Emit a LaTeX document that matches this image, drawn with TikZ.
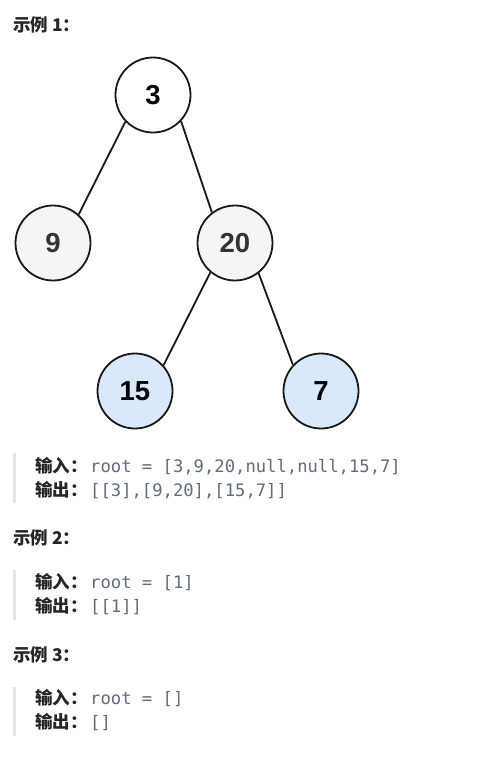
\documentclass[tikz,border=0pt]{standalone}
\usepackage{fontspec}
\setmainfont{Liberation Sans}
\newfontfamily\cjkfont{Noto Sans CJK SC}
\newfontfamily\codefont{DejaVu Sans Mono}
\definecolor{txt}{RGB}{38,38,38}
\definecolor{codec}{RGB}{98,108,122}
\definecolor{barc}{RGB}{228,228,228}
\definecolor{grayfill}{HTML}{F5F5F5}
\definecolor{bluefill}{HTML}{DAE8FC}
\definecolor{numc}{RGB}{51,51,51}
\tikzset{
  tnode/.style={circle, draw=black!90, line width=1.8pt, minimum size=75pt, inner sep=0pt,
    font=\fontsize{27.5}{27.5}\selectfont\bfseries},
  edge/.style={line width=1.8pt, draw=black!90},
  heading/.style={anchor=base west, inner sep=0pt, text=txt, font=\cjkfont\fontsize{17.5}{17.5}\selectfont\bfseries},
  lab/.style={anchor=base west, inner sep=0pt, text=txt, font=\cjkfont\fontsize{17.5}{17.5}\selectfont\bfseries},
  code/.style={anchor=base west, inner sep=0pt, text=codec, font=\codefont\fontsize{17.2}{17.2}\selectfont},
  qbar/.style={line width=2.5pt, draw=barc}
}
\begin{document}
\begin{tikzpicture}[x=1pt,y=-1pt]
\useasboundingbox[fill=white] (0,0) rectangle (497,758);
% Example 1
\node[heading] (h1) at (13,31) {示例 1：};
\node[tnode, fill=white, text=black] (n3) at (153,95) {3};
\node[tnode, fill=grayfill, text=numc] (n9) at (53,243) {9};
\node[tnode, fill=grayfill, text=numc] (n20) at (235,243) {20};
\node[tnode, fill=bluefill, text=black] (n15) at (135,391) {15};
\node[tnode, fill=bluefill, text=black] (n7) at (321,391) {7};
\draw[edge] (n3.224) -- (n9.48);
\draw[edge] (n3.317) -- (n20.127);
\draw[edge] (n20.230) -- (n15.42);
\draw[edge] (n20.308) -- (n7.137);
\coordinate (b1t) at (14.5,453);
\coordinate (b1b) at (14.5,503);
\draw[qbar] (b1t) -- (b1b);
\node[lab] (l1a) at (35,472) {输入：};
\node[code] (c1a) at (90,472) {root = [3,9,20,null,null,15,7]};
\node[lab] (l1b) at (35,496.5) {输出：};
\node[code] (c1b) at (90,496.5) {[[3],[9,20],[15,7]]};
% Example 2
\node[heading] (h2) at (13,544) {示例 2：};
\coordinate (b2t) at (14.5,570);
\coordinate (b2b) at (14.5,620);
\draw[qbar] (b2t) -- (b2b);
\node[lab] (l2a) at (35,588) {输入：};
\node[code] (c2a) at (90,588) {root = [1]};
\node[lab] (l2b) at (35,612.5) {输出：};
\node[code] (c2b) at (90,612.5) {[[1]]};
% Example 3
\node[heading] (h3) at (13,661) {示例 3：};
\coordinate (b3t) at (14.5,687);
\coordinate (b3b) at (14.5,736);
\draw[qbar] (b3t) -- (b3b);
\node[lab] (l3a) at (35,704) {输入：};
\node[code] (c3a) at (90,704) {root = []};
\node[lab] (l3b) at (35,728.5) {输出：};
\node[code] (c3b) at (90,728.5) {[]};
\end{tikzpicture}
\end{document}
